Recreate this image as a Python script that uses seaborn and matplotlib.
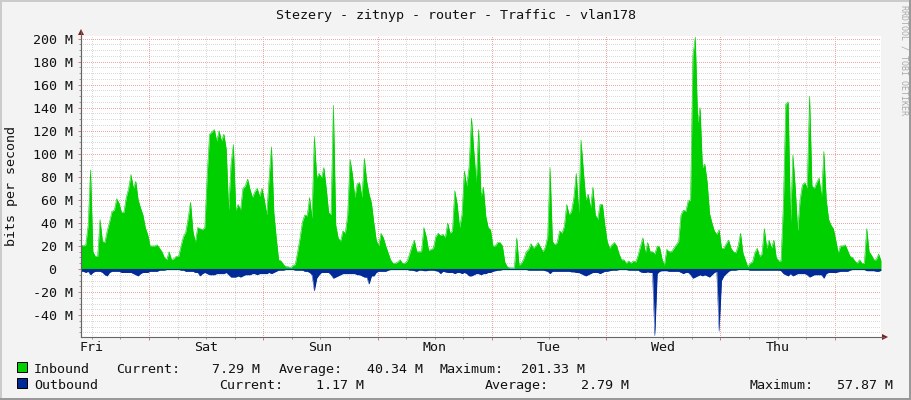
import matplotlib
matplotlib.use("Agg")
import matplotlib.pyplot as plt
from matplotlib.lines import Line2D
from matplotlib.patches import Polygon, Rectangle
import numpy as np
import pandas as pd
import seaborn as sns

title = "Stezery - zitnyp - router - Traffic - vlan178"
ylabel = "bits per second"
days = ["Fri", "Sat", "Sun", "Mon", "Tue", "Wed", "Thu"]
ytick_values = [-40, -20, 0, 20, 40, 60, 80, 100, 120, 140, 160, 180, 200]
ytick_labels = ["-40 M", "-20 M", "0  ", "20 M", "40 M", "60 M", "80 M", "100 M",
                "120 M", "140 M", "160 M", "180 M", "200 M"]

# one value per 30 minutes, in Mbit/s
inbound = [
    21, 20, 21, 38, 86, 15, 11, 11, 43, 24, 23, 33, 41, 50, 51, 61, 57, 49, 49, 62,
    70, 82, 70, 76, 60, 53, 47, 36, 30, 20, 20, 20, 21, 18, 15, 10, 8, 15, 8, 9,
    11, 11, 20, 28, 32, 44, 58, 33, 23, 36, 35, 34, 36, 82, 117, 119, 121, 111, 120, 111,
    117, 104, 51, 91, 108, 51, 56, 51, 70, 72, 78, 69, 62, 67, 70, 63, 70, 60, 47, 79,
    106, 49, 27, 8, 7, 4, 2, 2, 1, 3, 4, 15, 27, 41, 47, 46, 62, 44, 115, 79,
    83, 79, 88, 70, 49, 47, 142, 38, 27, 24, 33, 31, 47, 95, 82, 62, 74, 75, 62, 96,
    76, 65, 57, 40, 25, 20, 31, 27, 20, 14, 8, 5, 5, 6, 8, 5, 5, 7, 13, 20,
    25, 15, 15, 15, 36, 28, 16, 17, 18, 28, 31, 29, 30, 27, 40, 31, 33, 68, 56, 36,
    47, 85, 72, 89, 131, 102, 75, 121, 63, 71, 46, 36, 34, 20, 20, 23, 23, 20, 6, 2,
    1, 1, 1, 27, 3, 5, 9, 15, 17, 22, 18, 20, 23, 19, 15, 19, 28, 88, 24, 21,
    23, 33, 31, 37, 56, 47, 50, 62, 83, 49, 112, 85, 60, 65, 53, 71, 47, 43, 56, 56,
    38, 24, 18, 21, 23, 20, 13, 8, 8, 5, 7, 5, 7, 6, 12, 20, 27, 14, 23, 15,
    15, 13, 20, 19, 9, 3, 17, 15, 15, 18, 21, 24, 47, 51, 50, 59, 60, 185, 201.33, 127,
    140, 88, 91, 75, 48, 40, 33, 30, 34, 18, 18, 22, 25, 18, 15, 14, 20, 31, 14, 8,
    2, 5, 6, 14, 18, 11, 13, 35, 18, 25, 18, 25, 10, 7, 7, 56, 143, 145, 41, 99,
    70, 33, 60, 73, 75, 70, 150, 72, 70, 75, 79, 62, 102, 60, 43, 38, 35, 25, 14, 20,
    20, 21, 16, 11, 10, 7, 5, 8, 5, 5, 35, 15, 12, 8, 8, 13, 7.29,
]
outbound = [
    -2, -2, -3, -2, -5, -3, -2, -2, -2, -3, -5, -6, -3, -2, -2, -2, -2, -3, -3, -3,
    -3, -3, -4, -5, -6, -4, -3, -3, -3, -2, -2, -2, -2, -1, -1, -1, -.5, -.5, -.5, -.5,
    -.5, -.5, -1, -1, -2, -2, -2, -2, -3, -3, -6, -4, -3, -4, -5, -5, -5, -4, -4, -4,
    -4, -3, -5, -7, -7, -7, -6, -7, -6, -5, -5, -5, -4, -4, -5, -4, -4, -4, -4, -3,
    -4, -3, -2, -1, -1, -1, -.5, -.5, -.5, -.5, -1, -1, -1, -1, -2, -2, -3, -5, -19, -8,
    -5, -3, -3, -3, -3, -5, -8, -7, -6, -5, -4, -4, -4, -4, -4, -4, -5, -5, -6, -7,
    -7, -13, -6, -6, -3, -2, -2, -2, -2, -1, -.5, -.5, -.5, -.5, -.5, -.5, -.5, -.5, -1, -1,
    -1.5, -2, -1, -1, -1.5, -1.5, -1, -1, -1, -1.5, -2, -4, -2, -2.5, -3, -3, -3, -4, -3, -3,
    -4, -3, -4, -6, -6, -5, -4, -4, -5, -4, -4, -3, -3, -2, -1.5, -1, -1, -.5, -.5, -.5,
    -.5, -.5, -.5, -.5, -.5, -.5, -.5, -.5, -1, -1, -1, -1, -1, -1, -1, -1.5, -2, -4, -2, -2,
    -2, -2, -2, -2, -2, -2, -2.5, -2.5, -3, -3, -4, -5, -6, -5, -4, -3, -3, -3, -4, -3,
    -2, -2, -1.5, -1, -1, -1, -.5, -.5, -.5, -.5, -1, -1, -1, -1, -1, -2.5, -3, -3, -2.5, -3,
    -3, -57.87, -4, -2, -1.5, -1.5, -1.5, -2, -2, -2, -2, -2, -3, -4, -3, -3, -5, -8, -7, -6,
    -5, -6, -5, -6, -7, -5, -3, -2, -54, -10, -6, -4, -2, -1, -1, -1, -.5, -.5, -.5, -.5,
    -.5, -1, -1, -1, -1, -1, -1, -1, -1, -1, -1, -1, -1, -1, -1.5, -4, -5, -6, -4, -6,
    -5, -4, -4, -4, -4, -5, -7, -6, -5, -5, -5, -5, -8, -4, -3, -3, -3, -3, -2.5, -2,
    -2, -2, -2, -1, -.5, -.5, -.5, -.5, -.5, -.5, -1.5, -1.5, -1.5, -1.5, -2, -2, -1.17,
]

W, H = 911, 400
LEFT, RIGHT, TOP, BOTTOM = 81, 881, 36, 337
GREEN = "#00CF00"
BLUE = "#002A97"
ARROW = "#7F1D1D"
MONO = "DejaVu Sans Mono"
FS = 9.65
first_midnight = 14.28  # hours after the left edge

sns.set_theme(style="white")
plt.rcParams["font.family"] = [MONO]
plt.rcParams["text.color"] = "#111111"

df = pd.DataFrame({"hour": np.arange(len(inbound)) * 0.5, "inbound": inbound, "outbound": outbound})


# picture pixels -> figure fractions
def fx(x):
    return x / W


def fy(y):
    return 1 - y / H


fig = plt.figure(figsize=(W / 100, H / 100), dpi=100, facecolor="#F3F3F3")

# raised border of the rrdtool canvas
for x0, y0, x1, y1, col in [(0, 0, W, 2, "#CBCBCB"), (0, 0, 2, H, "#CBCBCB"),
                            (0, H - 2, W, H, "#999999"), (W - 2, 0, W, H, "#999999")]:
    fig.add_artist(Rectangle((fx(x0), fy(y1)), (x1 - x0) / W, (y1 - y0) / H,
                             transform=fig.transFigure, color=col, lw=0))

ax = fig.add_axes([fx(LEFT), fy(BOTTOM), (RIGHT - LEFT) / W, (BOTTOM - TOP) / H], facecolor="white")

ax.fill_between(df["hour"], df["inbound"], 0, color=GREEN, lw=0, zorder=3)
ax.fill_between(df["hour"], df["outbound"], 0, color=BLUE, lw=0, zorder=3)
sns.lineplot(data=df, x="hour", y="inbound", color=GREEN, lw=0.4, errorbar=None, ax=ax, zorder=3)
sns.lineplot(data=df, x="hour", y="outbound", color=BLUE, lw=0.3, errorbar=None, ax=ax, zorder=4)
ax.axhline(0, color=BLUE, lw=0.8, zorder=4)

ax.set_xlim(0, 168)
ax.set_ylim(-59, 202.2)
ax.set_xlabel("")
ax.set_ylabel("")

midnights = first_midnight + np.arange(7) * 24
six_hours = [h for h in (first_midnight - 12) + np.arange(27) * 6 if 0 < h < 168 and min(abs(h - midnights)) > 1]
ax.set_xticks(midnights)
ax.set_xticks(six_hours, minor=True)
ax.set_xticklabels([])
ax.set_yticks(ytick_values)
ax.set_yticklabels(ytick_labels, fontsize=FS, color="#111111")
ax.set_yticks([v for v in range(-55, 205, 5) if v % 20 != 0], minor=True)

dots = (0, (0.7, 1.3))
ax.set_axisbelow(True)
ax.grid(True, which="minor", color="#DADADA", lw=0.72, ls=dots)
ax.grid(True, which="major", color="#F0A8A8", lw=0.72, ls=dots)
# crisp one pixel dots, as rrdtool draws them
for axis in [ax.xaxis, ax.yaxis]:
    for tick in axis.get_major_ticks() + axis.get_minor_ticks():
        tick.gridline.set_antialiased(False)
ax.tick_params(axis="both", which="major", length=2.2, width=0.72, color="#D08080", left=True, bottom=True, pad=3.8)
ax.tick_params(axis="both", which="minor", length=1.4, width=0.72, color="#999999", left=True, bottom=True)

sns.despine(ax=ax, top=True, right=True)
for side in ["left", "bottom"]:
    ax.spines[side].set_color("#666666")
    ax.spines[side].set_linewidth(0.8)
    ax.spines[side].set_zorder(5)

# day names sit at noon
for i, day in enumerate(days):
    ax.text(first_midnight - 12 + i * 24, -14 / (BOTTOM - TOP), day, transform=ax.get_xaxis_transform(),
            ha="center", va="baseline", fontsize=FS)

# axis arrows
fig.add_artist(Line2D([fx(LEFT), fx(LEFT)], [fy(BOTTOM), fy(31)], color="#666666", lw=0.8))
fig.add_artist(Line2D([fx(RIGHT), fx(884)], [fy(BOTTOM), fy(BOTTOM)], color="#666666", lw=0.8))
fig.add_artist(Polygon([(fx(78), fy(35)), (fx(84), fy(35)), (fx(81), fy(29))], transform=fig.transFigure,
                       color=ARROW, lw=0))
fig.add_artist(Polygon([(fx(882), fy(334)), (fx(882), fy(340)), (fx(888), fy(337))], transform=fig.transFigure,
                       color=ARROW, lw=0))

fig.text(fx(455.5), fy(19), title, ha="center", va="baseline", fontsize=FS)
fig.text(fx(11.5), fy(186), ylabel, rotation=90, ha="center", va="center", fontsize=FS)
fig.text(fx(904), fy(5), "RRDTOOL / TOBI OETIKER", rotation=270, ha="center", va="top", fontsize=6, color="#AAAAAA")

# legend rows
for y0, col in [(362, GREEN), (378, BLUE)]:
    fig.add_artist(Rectangle((fx(17), fy(y0 + 10)), 10 / W, 10 / H, transform=fig.transFigure,
                             facecolor=col, edgecolor="black", lw=0.72))

for x, txt in [(34, "Inbound"), (116, "Current:"), (212, "7.29 M"), (279, "Average:"),
               (367, "40.34 M"), (440, "Maximum:"), (521, "201.33 M")]:
    fig.text(fx(x), fy(373), txt, ha="left", va="baseline", fontsize=FS)
for x, txt in [(34, "Outbound"), (219, "Current:"), (316, "1.17 M"), (485, "Average:"),
               (581, "2.79 M"), (749, "Maximum:"), (837, "57.87 M")]:
    fig.text(fx(x), fy(389), txt, ha="left", va="baseline", fontsize=FS)

fig.savefig("out.png", dpi=100, facecolor=fig.get_facecolor())
